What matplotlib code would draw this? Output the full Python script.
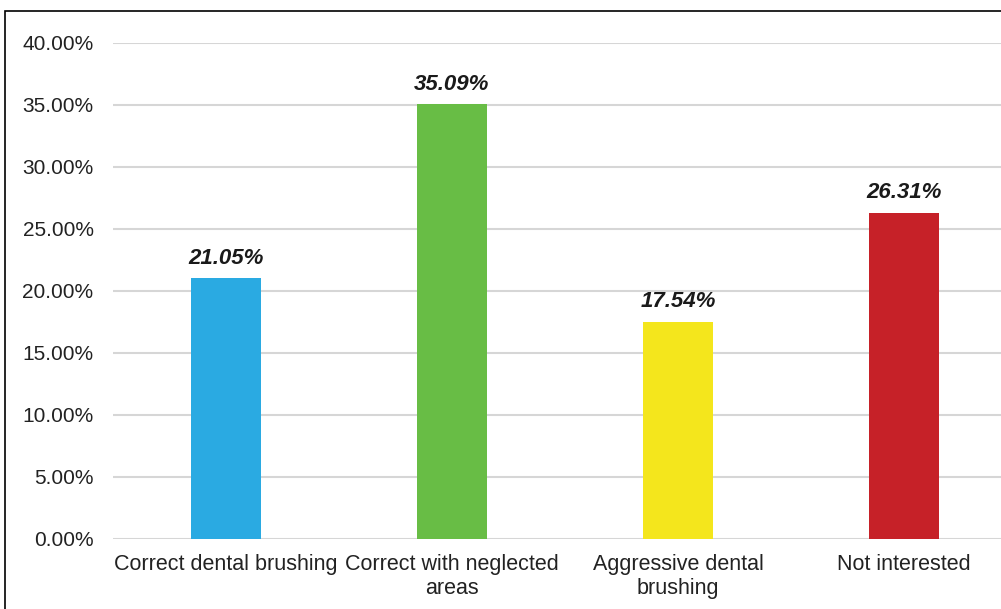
import matplotlib.pyplot as plt
from matplotlib.patches import Rectangle

categories = ["Correct dental brushing", "Correct with neglected\nareas",
              "Aggressive dental\nbrushing", "Not interested"]
values = [21.05, 35.09, 17.54, 26.31]
colors = ["#2aaae2", "#68bd45", "#f4e61c", "#c62128"]
yticks = [0, 5, 10, 15, 20, 25, 30, 35, 40]

plt.rcParams['font.family'] = ['Liberation Sans', 'DejaVu Sans']

W, H = 1001, 609
fig = plt.figure(figsize=(W / 100, H / 100), dpi=100)
ax = fig.add_axes([113 / W, 1 - 539 / H, (1017 - 113) / W, (539 - 43) / H])

x = range(len(categories))
ax.bar(x, values, width=0.31, color=colors, zorder=3)
for xi, v in zip(x, values):
    ax.text(xi, v + 0.75, f"{v:.2f}%", ha="center", va="bottom",
            fontsize=16, fontweight="bold", fontstyle="italic", color="#1a1a1a")

ax.set_xlim(-0.5, 3.5)
ax.set_ylim(0, 40)
ax.set_yticks(yticks)
ax.set_yticklabels([f"{t:.2f}%" for t in yticks], fontsize=15, color="#222222")
ax.set_xticks(list(x))
ax.set_xticklabels(categories, fontsize=15.5, color="#222222", linespacing=1.2)
ax.tick_params(axis="both", length=0)
ax.tick_params(axis="y", pad=14)
ax.tick_params(axis="x", pad=11)

ax.yaxis.grid(True, color="#d6d6d6", linewidth=1.5, zorder=0)
for s in ax.spines.values():
    s.set_visible(False)

# outer frame around the chart
fig.patches.append(Rectangle((5 / W, -0.1), 1.2, 1 - 11 / H + 0.1,
                             transform=fig.transFigure, fill=False,
                             edgecolor="black", linewidth=1.2))

fig.savefig("out.png", dpi=100)
